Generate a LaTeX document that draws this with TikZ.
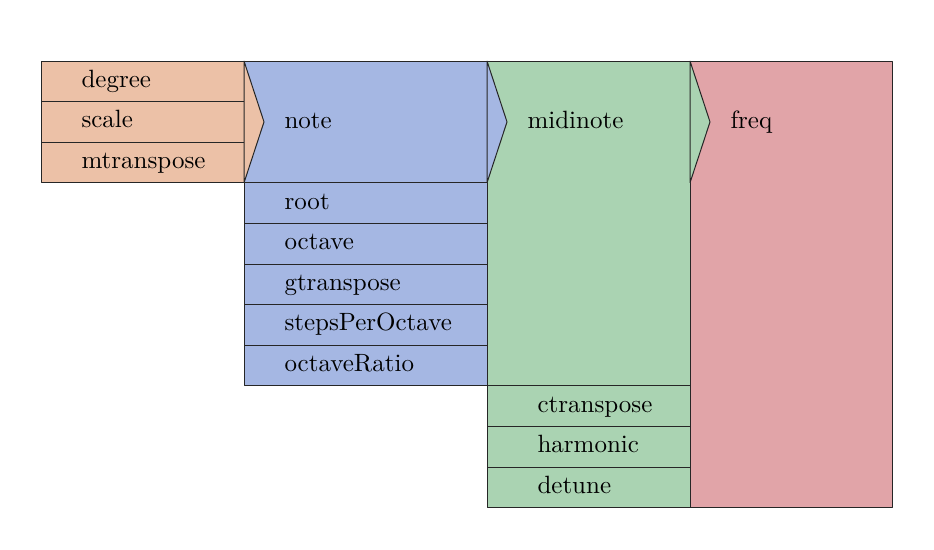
\documentclass[tikz,border=0pt]{standalone}
\usetikzlibrary{calc}
\definecolor{corange}{RGB}{236,193,167}
\definecolor{cblue}{RGB}{165,183,227}
\definecolor{cgreen}{RGB}{170,211,178}
\definecolor{cred}{RGB}{225,164,168}
\tikzset{
  cell/.style={draw=black!85, line width=0.4pt, line join=bevel},
  lbl/.style={anchor=base west, inner sep=0pt, font=\normalsize},
}
\begin{document}
\begin{tikzpicture}[x=0.4pt, y=-0.4pt]
\useasboundingbox (0,0) rectangle (934,549);
% red column
\filldraw[cell, fill=cred] (690,61) rectangle (892,507.6);
% green column
\filldraw[cell, fill=cgreen] (487,61) rectangle (690,385.8);
\filldraw[cell, fill=cgreen] (487,385.8) rectangle (690,426.4);
\filldraw[cell, fill=cgreen] (487,426.4) rectangle (690,467);
\filldraw[cell, fill=cgreen] (487,467) rectangle (690,507.6);
% blue column
\filldraw[cell, fill=cblue] (244,61) rectangle (487,182.8);
\filldraw[cell, fill=cblue] (244,182.8) rectangle (487,223.4);
\filldraw[cell, fill=cblue] (244,223.4) rectangle (487,264);
\filldraw[cell, fill=cblue] (244,264) rectangle (487,304.6);
\filldraw[cell, fill=cblue] (244,304.6) rectangle (487,345.2);
\filldraw[cell, fill=cblue] (244,345.2) rectangle (487,385.8);
% orange column
\filldraw[cell, fill=corange] (41,61) rectangle (244,101.6);
\filldraw[cell, fill=corange] (41,101.6) rectangle (244,142.2);
\filldraw[cell, fill=corange] (41,142.2) rectangle (244,182.8);
% chevrons
\filldraw[cell, fill=corange] (244,61) -- (264,121.9) -- (244,182.8) -- cycle;
\filldraw[cell, fill=cblue] (487,61) -- (507,121.9) -- (487,182.8) -- cycle;
\filldraw[cell, fill=cgreen] (690,61) -- (710,121.9) -- (690,182.8) -- cycle;
% labels
\node[lbl] (degree) at (81,87.3) {degree};
\node[lbl] (scale) at (81,127.9) {scale};
\node[lbl] (mtranspose) at (81,168.5) {mtranspose};
\node[lbl] (note) at (284,128.2) {note};
\node[lbl] (root) at (284,209.1) {root};
\node[lbl] (octave) at (284,249.7) {octave};
\node[lbl] (gtranspose) at (284,290.3) {gtranspose};
\node[lbl] (steps) at (284,330.9) {stepsPerOctave};
\node[lbl] (ratio) at (284,371.5) {octaveRatio};
\node[lbl] (midinote) at (527,128.2) {midinote};
\node[lbl] (ctranspose) at (537,412.1) {ctranspose};
\node[lbl] (harmonic) at (537,452.7) {harmonic};
\node[lbl] (detune) at (537,493.3) {detune};
\node[lbl] (freq) at (730,128.2) {freq};
\end{tikzpicture}
\end{document}
